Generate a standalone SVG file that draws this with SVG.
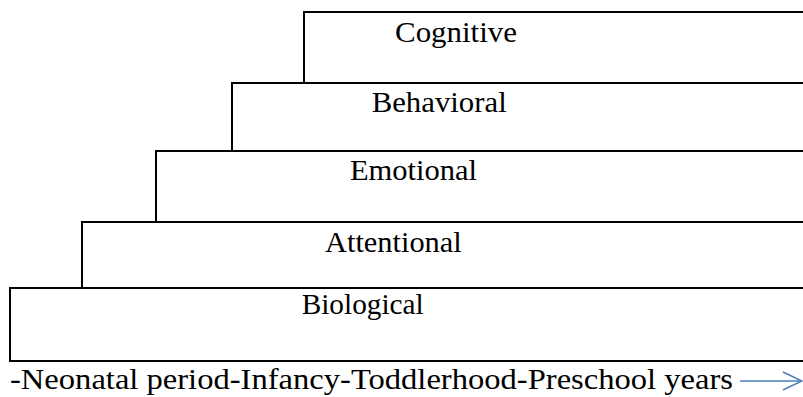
<svg xmlns="http://www.w3.org/2000/svg" width="803" height="397" viewBox="0 0 803 397">
<style>
.step{fill:none;stroke:#000;stroke-width:2}
.lbl{font-family:"Liberation Serif","Times New Roman",serif;font-size:30px;fill:#000}
.arr{fill:none;stroke:#4a7ebb;stroke-width:1.5}
</style>
<rect width="803" height="397" fill="#fff"/>
<g id="cognitive">
<path class="step" d="M805,12 H304 V83"/>
<text class="lbl" x="395" y="41.7" textLength="122" lengthAdjust="spacingAndGlyphs">Cognitive</text>
</g>
<g id="behavioral">
<path class="step" d="M805,83 H232 V151"/>
<text class="lbl" x="371.7" y="111.7" textLength="135" lengthAdjust="spacingAndGlyphs">Behavioral</text>
</g>
<g id="emotional">
<path class="step" d="M805,151 H156 V222"/>
<text class="lbl" x="350" y="179.7" textLength="127" lengthAdjust="spacingAndGlyphs">Emotional</text>
</g>
<g id="attentional">
<path class="step" d="M805,222 H82 V288"/>
<text class="lbl" x="325" y="251.7" textLength="136.7" lengthAdjust="spacingAndGlyphs">Attentional</text>
</g>
<g id="biological">
<path class="step" d="M805,288 H10 V361 H805"/>
<text class="lbl" x="301.7" y="314.3" textLength="122" lengthAdjust="spacingAndGlyphs">Biological</text>
</g>
<g id="timeline">
<text class="lbl" x="10" y="389" textLength="723" lengthAdjust="spacingAndGlyphs">-Neonatal period-Infancy-Toddlerhood-Preschool years</text>
</g>
<g id="connectors">
<path class="arr" d="M740,381 H801.5"/>
<path class="arr" d="M783,372 L802,381 L783,390"/>
</g>
</svg>
